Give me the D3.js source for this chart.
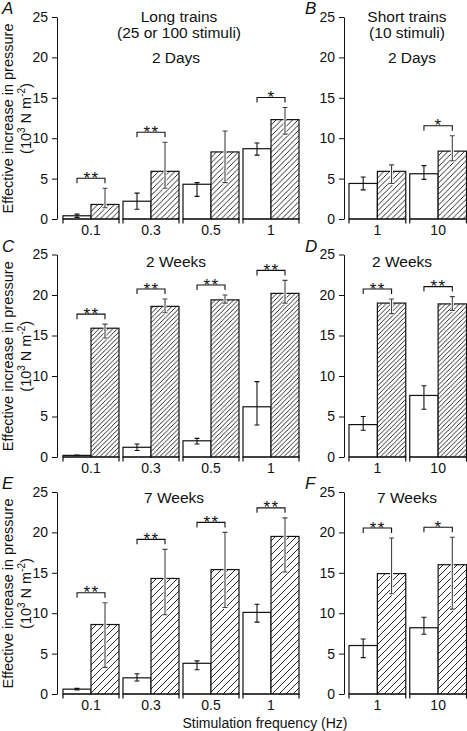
<!DOCTYPE html>
<html>
<head>
<meta charset="utf-8">
<script src="https://cdn.jsdelivr.net/npm/d3@7"></script>
<style>
  html, body { margin: 0; padding: 0; background: #fff; }
  svg { display: block; }
  text { font-family: "Liberation Sans", Arial, Helvetica, sans-serif; fill: #111; }
</style>
</head>
<body>
<svg id="chart" width="467" height="731"></svg>
<script>
// ---------------- data ----------------
const longFreqs = ["0.1", "0.3", "0.5", "1"];
const shortFreqs = ["1", "10"];
const yTicks = [0, 5, 10, 15, 20, 25];

// Panel A: long trains, 2 days
const aCtrl   = [0.4, 2.2, 4.3, 8.7];
const aCtrlLo = [0.2, 1.2, 2.8, 7.9];
const aCtrlHi = [0.6, 3.2, 4.5, 9.4];
const aStim   = [1.8, 5.9, 8.3, 12.3];
const aStimLo = [1.4, 3.8, 4.5, 10.5];
const aStimHi = [3.8, 9.5, 10.9, 13.8];
const aSig    = ["**", "**", "", "*"];

// Panel B: short trains, 2 days
const bCtrl   = [4.4, 5.6];
const bCtrlLo = [3.6, 4.9];
const bCtrlHi = [5.2, 6.6];
const bStim   = [5.9, 8.4];
const bStimLo = [4.4, 7.2];
const bStimHi = [6.7, 10.3];
const bSig    = ["", "*"];

// Panel C: long trains, 2 weeks
const cCtrl   = [0.2, 1.2, 2.0, 6.2];
const cCtrlLo = [0.15, 0.8, 1.6, 3.95];
const cCtrlHi = [0.25, 1.6, 2.3, 9.3];
const cStim   = [15.9, 18.6, 19.4, 20.2];
const cStimLo = [14.7, 17.8, 19.0, 19.0];
const cStimHi = [16.4, 19.5, 20.0, 21.8];
const cSig    = ["**", "**", "**", "**"];

// Panel D: short trains, 2 weeks
const dCtrl   = [4.0, 7.6];
const dCtrlLo = [3.3, 5.9];
const dCtrlHi = [5.0, 8.8];
const dStim   = [19.0, 18.9];
const dStimLo = [17.7, 18.1];
const dStimHi = [19.5, 19.8];
const dSig    = ["**", "**"];

// Panel E: long trains, 7 weeks
const eCtrl   = [0.6, 2.0, 3.8, 10.1];
const eCtrlLo = [0.5, 1.6, 3.0, 8.9];
const eCtrlHi = [0.7, 2.5, 4.1, 11.1];
const eStim   = [8.6, 14.3, 15.4, 19.5];
const eStimLo = [3.3, 9.8, 10.7, 15.1];
const eStimHi = [11.3, 17.9, 20.0, 21.8];
const eSig    = ["**", "**", "**", "**"];

// Panel F: short trains, 7 weeks
const fCtrl   = [6.0, 8.2];
const fCtrlLo = [4.5, 7.4];
const fCtrlHi = [6.8, 9.5];
const fStim   = [14.9, 16.0];
const fStimLo = [12.4, 10.5];
const fStimHi = [19.3, 19.4];
const fSig    = ["**", "*"];

const panelLetters = ["A", "B", "C", "D", "E", "F"];
const yLabel1 = "Effective increase in pressure";
const xLabel = "Stimulation frequency (Hz)";

// ---------------- layout ----------------
const svg = d3.select("#chart");
const defs = svg.append("defs");

function makeHatch(id, s) {
  const p = defs.append("pattern").attr("id", id)
    .attr("patternUnits", "userSpaceOnUse").attr("width", s).attr("height", s);
  p.append("rect").attr("width", s).attr("height", s).attr("fill", "#fff");
  p.append("path")
    .attr("d", `M0,${s} L${s},0 M${-s/2},${s/2} L${s/2},${-s/2} M${s/2},${s*1.5} L${s*1.5},${s/2}`)
    .attr("stroke", "#111").attr("stroke-width", 0.9);
}
makeHatch("hatchA", 5.5);
makeHatch("hatchC", 4.6);
makeHatch("hatchE", 7);

const rows = [
  { y0: 219, y25: 17, hatch: "hatchA" },
  { y0: 457, y25: 254.5, hatch: "hatchC" },
  { y0: 694, y25: 492, hatch: "hatchE" }
];

const panels = [
  { row: 0, left: true,  cats: longFreqs,  ctrl: aCtrl, ctrlLo: aCtrlLo, ctrlHi: aCtrlHi, stim: aStim, stimLo: aStimLo, stimHi: aStimHi, sig: aSig },
  { row: 0, left: false, cats: shortFreqs, ctrl: bCtrl, ctrlLo: bCtrlLo, ctrlHi: bCtrlHi, stim: bStim, stimLo: bStimLo, stimHi: bStimHi, sig: bSig },
  { row: 1, left: true,  cats: longFreqs,  ctrl: cCtrl, ctrlLo: cCtrlLo, ctrlHi: cCtrlHi, stim: cStim, stimLo: cStimLo, stimHi: cStimHi, sig: cSig },
  { row: 1, left: false, cats: shortFreqs, ctrl: dCtrl, ctrlLo: dCtrlLo, ctrlHi: dCtrlHi, stim: dStim, stimLo: dStimLo, stimHi: dStimHi, sig: dSig },
  { row: 2, left: true,  cats: longFreqs,  ctrl: eCtrl, ctrlLo: eCtrlLo, ctrlHi: eCtrlHi, stim: eStim, stimLo: eStimLo, stimHi: eStimHi, sig: eSig },
  { row: 2, left: false, cats: shortFreqs, ctrl: fCtrl, ctrlLo: fCtrlLo, ctrlHi: fCtrlHi, stim: fStim, stimLo: fStimLo, stimHi: fStimHi, sig: fSig }
];

const leftCol  = { axisX: 57,  range: [63, 299] };
const rightCol = { axisX: 344, range: [349, 466.5] };

panels.forEach((p, i) => {
  const r = rows[p.row];
  const col = p.left ? leftCol : rightCol;
  const g = svg.append("g");
  const y = d3.scaleLinear().domain([0, 25]).range([r.y0, r.y25]);
  const n = p.cats.length;
  const pad = 4 * n / (col.range[1] - col.range[0] + 4);
  const x = d3.scaleBand().domain(p.cats).range(col.range).paddingInner(pad).paddingOuter(0);
  const inner = d3.scaleBand().domain(["ctrl", "stim"]).range([0, x.bandwidth()]);

  // y axis
  const ya = g.append("g").attr("transform", `translate(${col.axisX},0)`)
    .call(d3.axisLeft(y).tickValues(yTicks).tickSize(5).tickSizeOuter(0).tickPadding(4));
  ya.selectAll("path, line").attr("stroke", "#111");
  ya.selectAll("text").style("font-size", "14px").attr("fill", "#111");

  // x axis labels
  const xa = g.append("g").attr("transform", `translate(0,${r.y0})`)
    .call(d3.axisBottom(x).tickSize(0).tickPadding(6.5));
  xa.select(".domain").remove();
  xa.selectAll("text").style("font-size", "14px").attr("fill", "#111");

  // bars
  p.cats.forEach((c, k) => {
    const gx = x(c);
    const bw = inner.bandwidth();
    const series = [
      { key: "ctrl", v: p.ctrl[k], lo: p.ctrlLo[k], hi: p.ctrlHi[k], fill: "#fff" },
      { key: "stim", v: p.stim[k], lo: p.stimLo[k], hi: p.stimHi[k], fill: `url(#${r.hatch})` }
    ];
    series.forEach(s => {
      const bx = gx + inner(s.key);
      g.append("rect")
        .attr("x", bx).attr("y", y(s.v))
        .attr("width", bw).attr("height", y(0) - y(s.v))
        .attr("fill", s.fill).attr("stroke", "#111").attr("stroke-width", 1.2);
    });
    series.forEach(s => {
      const cx = gx + inner(s.key) + bw / 2;
      const d = `M${cx},${y(s.lo)} V${y(s.hi)} M${cx - 2.5},${y(s.lo)} H${cx + 2.5} M${cx - 2.5},${y(s.hi)} H${cx + 2.5}`;
      if (s.key === "stim") {
        g.append("path").attr("d", d).attr("stroke", "#fff").attr("stroke-width", 3).attr("fill", "none");
        g.append("path").attr("d", d).attr("stroke", "#444").attr("stroke-width", 1.1).attr("fill", "none");
      } else {
        g.append("path").attr("d", d).attr("stroke", "#111").attr("stroke-width", 1.1).attr("fill", "none");
      }
    });
    // axis segment under group
    g.append("path")
      .attr("d", `M${gx},${r.y0 + 4.5} V${r.y0} H${gx + x.bandwidth()} V${r.y0 + 4.5}`)
      .attr("stroke", "#111").attr("stroke-width", 1.2).attr("fill", "none");

    // significance bracket
    if (p.sig[k]) {
      const c1 = gx + inner("ctrl") + bw / 2;
      const c2 = gx + inner("stim") + bw / 2;
      const by = Math.min(y(p.ctrlHi[k]), y(p.stimHi[k])) - 10;
      g.append("path").attr("d", `M${c1},${by + 5} V${by} H${c2} V${by + 5}`)
        .attr("stroke", "#111").attr("stroke-width", 1.1).attr("fill", "none");
      g.append("text").attr("x", (c1 + c2) / 2 + 0.5).attr("y", by + 5.5)
        .attr("text-anchor", "middle").style("font-size", "17px").style("letter-spacing", "1.5px")
        .text(p.sig[k]);
    }
  });

  // panel letter
  svg.append("text")
    .attr("x", p.left ? 2 : 305)
    .attr("y", r.y25 - 3)
    .style("font-size", "17px").style("font-style", "italic")
    .text(panelLetters[i]);
});

// titles
function title(txt, x, yb) {
  svg.append("text").attr("x", x).attr("y", yb).attr("text-anchor", "middle")
    .style("font-size", "15.5px").text(txt);
}
title("Long trains", 179, 22);
title("(25 or 100 stimuli)", 179, 38);
title("2 Days", 176, 63);
title("Short trains", 407, 22);
title("(10 stimuli)", 407, 38);
title("2 Days", 412, 63);
title("2 Weeks", 176, 267);
title("2 Weeks", 402, 267);
title("7 Weeks", 174, 503);
title("7 Weeks", 407, 503);

// y labels
rows.forEach(r => {
  const yc = (r.y0 + r.y25) / 2 + 0.5;
  svg.append("text").attr("transform", `translate(13,${yc}) rotate(-90)`)
    .attr("text-anchor", "middle").style("font-size", "14.5px").text(yLabel1);
  const t = svg.append("text").attr("transform", `translate(31,${yc}) rotate(-90)`)
    .attr("text-anchor", "middle").style("font-size", "14.5px");
  t.append("tspan").text("(10");
  t.append("tspan").attr("dy", -6).style("font-size", "10px").text("3");
  t.append("tspan").attr("dy", 6).text(" N m");
  t.append("tspan").attr("dy", -6).style("font-size", "10px").text("-2");
  t.append("tspan").attr("dy", 6).text(")");
});

// x label
svg.append("text").attr("x", 265).attr("y", 728).attr("text-anchor", "middle")
  .style("font-size", "14px").text(xLabel);
</script>
</body>
</html>
